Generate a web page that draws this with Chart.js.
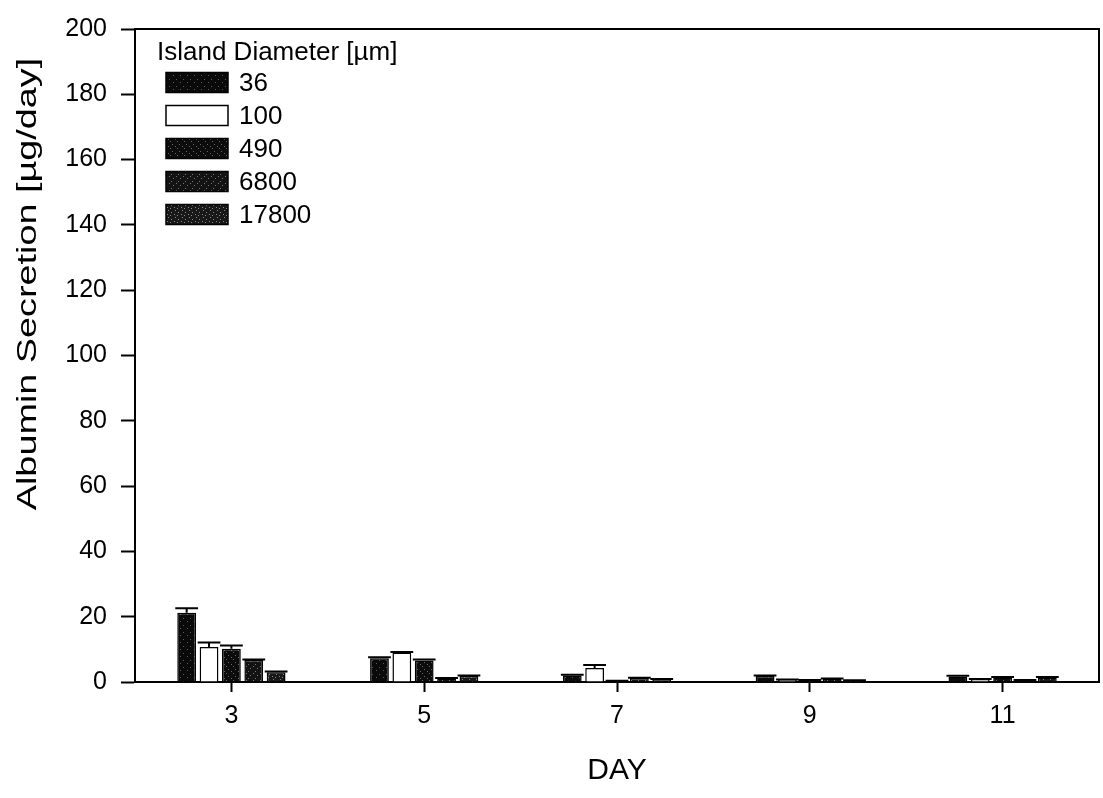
<!DOCTYPE html>
<html>
<head>
<meta charset="utf-8">
<script src="https://cdn.jsdelivr.net/npm/chart.js@4/dist/chart.umd.min.js"></script>
<style>
    html, body { margin: 0; padding: 0; background: #fff; }
    #wrap { width: 1103px; height: 798px; }
</style>
</head>
<body>
<div id="wrap"><canvas id="chart" width="1103" height="798"></canvas></div>
<script>
'use strict';

// дни измерений
const days = ['3', '5', '7', '9', '11'];

// секреция альбумина, мкг/сутки, по диаметру островков
const d36 = [21.2, 7.3, 2.0, 1.8, 1.7];
const d36Err = [1.4, 0.3, 0.2, 0.2, 0.2];
const d100 = [10.7, 9.0, 4.3, 0.7, 0.8];
const d100Err = [1.4, 0.2, 0.9, 0.1, 0.1];
const d490 = [10.2, 6.6, 0.3, 0.5, 1.4];
const d490Err = [1.0, 0.3, 0.1, 0.1, 0.1];
const d6800 = [6.7, 1.1, 1.2, 1.0, 0.5];
const d6800Err = [0.2, 0.1, 0.1, 0.1, 0.1];
const d17800 = [3.0, 1.8, 0.8, 0.4, 1.4];
const d17800Err = [0.2, 0.2, 0.1, 0.1, 0.1];

const seriesNames = ['36', '100', '490', '6800', '17800'];
const legendTitle = 'Island Diameter [\u00b5m]';
const yTitle = 'Albumin Secretion [\u00b5g/day]';
const xTitle = 'DAY';

const FONT = '"Liberation Sans", Arial, sans-serif';

// тёмная заливка с крапинками, как у растрированных столбиков
function speckle(base, dot, points) {
    let c = document.createElement('canvas');
    c.width = 7;
    c.height = 7;
    let g = c.getContext('2d');
    g.fillStyle = base;
    g.fillRect(0, 0, 7, 7);
    g.fillStyle = dot;
    for (let p of points) g.fillRect(p[0], p[1], 1, 1);
    return g.createPattern(c, 'repeat');
}

const fills = [
    speckle('#0a0a0a', '#5a5a5a', [[1, 2], [5, 5]]),
    '#ffffff',
    speckle('#0c0c0c', '#666', [[2, 1], [4, 4], [0, 6]]),
    speckle('#131313', '#777', [[1, 1], [5, 3], [3, 6]]),
    speckle('#181818', '#888', [[0, 0], [3, 2], [6, 4], [2, 5]]),
];

const values = [d36, d100, d490, d6800, d17800];
const errors = [d36Err, d100Err, d490Err, d6800Err, d17800Err];

// планки погрешностей поверх столбиков
const errorBars = {
    id: 'errorBars',
    afterDatasetsDraw(chart) {
        const ctx = chart.ctx;
        const y = chart.scales.y;
        ctx.save();
        ctx.strokeStyle = '#000';
        ctx.lineWidth = 2;
        chart.data.datasets.forEach((ds, i) => {
            const meta = chart.getDatasetMeta(i);
            meta.data.forEach((bar, j) => {
                const top = y.getPixelForValue(ds.data[j] + ds.err[j]);
                const half = bar.width / 2 + 2;
                ctx.beginPath();
                ctx.moveTo(bar.x, bar.y);
                ctx.lineTo(bar.x, top);
                ctx.moveTo(bar.x - half, top);
                ctx.lineTo(bar.x + half, top);
                ctx.stroke();
            });
        });
        ctx.restore();
    },
};

// рамка, подпись оси Y и легенда внутри поля графика
const decor = {
    id: 'decor',
    afterDraw(chart) {
        const ctx = chart.ctx;
        const a = chart.chartArea;
        ctx.save();
        ctx.strokeStyle = '#000';
        ctx.lineWidth = 2;
        ctx.beginPath();
        ctx.moveTo(a.left, a.top);
        ctx.lineTo(a.right, a.top);
        ctx.lineTo(a.right, a.bottom);
        ctx.stroke();

        // подпись оси Y: шрифт растянут вдоль строки
        ctx.fillStyle = '#000';
        ctx.font = '27px ' + FONT;
        ctx.textAlign = 'center';
        ctx.textBaseline = 'middle';
        ctx.translate(29, 284);
        ctx.rotate(-Math.PI / 2);
        ctx.scale(1.4, 1);
        ctx.fillText(yTitle, 0, 0);
        ctx.setTransform(1, 0, 0, 1, 0, 0);

        // легенда
        ctx.textAlign = 'left';
        ctx.textBaseline = 'middle';
        ctx.font = '26px ' + FONT;
        ctx.fillText(legendTitle, 157, 53);
        chart.data.datasets.forEach((ds, i) => {
            const cy = 82.5 + i * 33;
            ctx.fillStyle = ds.backgroundColor;
            ctx.fillRect(166, cy - 10, 62, 20);
            ctx.lineWidth = 1.5;
            ctx.strokeRect(166, cy - 10, 62, 20);
            ctx.fillStyle = '#000';
            ctx.fillText(ds.label, 239, cy + 1);
        });
        ctx.restore();
    },
};

const datasets = seriesNames.map((name, i) => ({
    label: name,
    data: values[i],
    err: errors[i],
    backgroundColor: fills[i],
    borderColor: '#000',
    borderWidth: 1.5,
    borderSkipped: 'bottom',
    categoryPercentage: 0.58,
    barPercentage: 0.84,
}));

const ctx = document.getElementById('chart').getContext('2d');
const chart = new Chart(ctx, {
    type: 'bar',
    data: { labels: days, datasets: datasets },
    options: {
        responsive: false,
        animation: false,
        devicePixelRatio: 1,
        layout: { padding: { top: 22, right: 4, left: 0, bottom: 0 } },
        plugins: {
            legend: { display: false },
            tooltip: { enabled: false },
        },
        scales: {
            x: {
                offset: true,
                grid: {
                    offset: false,
                    drawOnChartArea: false,
                    drawTicks: true,
                    tickLength: 10,
                    tickWidth: 2,
                    color: '#000',
                },
                border: { display: true, color: '#000', width: 2 },
                ticks: {
                    color: '#000',
                    padding: 9,
                    font: { family: FONT, size: 25 },
                },
                title: {
                    display: true,
                    text: xTitle,
                    color: '#000',
                    font: { family: FONT, size: 30 },
                    padding: { top: 0, bottom: 9 },
                },
                afterFit(scale) {
                    scale.height = 116;
                },
            },
            y: {
                min: 0,
                max: 200,
                ticks: {
                    stepSize: 20,
                    color: '#000',
                    padding: 14,
                    font: { family: FONT, size: 25 },
                },
                grid: {
                    drawOnChartArea: false,
                    drawTicks: true,
                    tickLength: 14,
                    tickWidth: 2,
                    color: '#000',
                },
                border: { display: true, color: '#000', width: 2 },
                afterFit(scale) {
                    scale.width = 135;
                },
            },
        },
    },
    plugins: [errorBars, decor],
});
</script>
</body>
</html>
